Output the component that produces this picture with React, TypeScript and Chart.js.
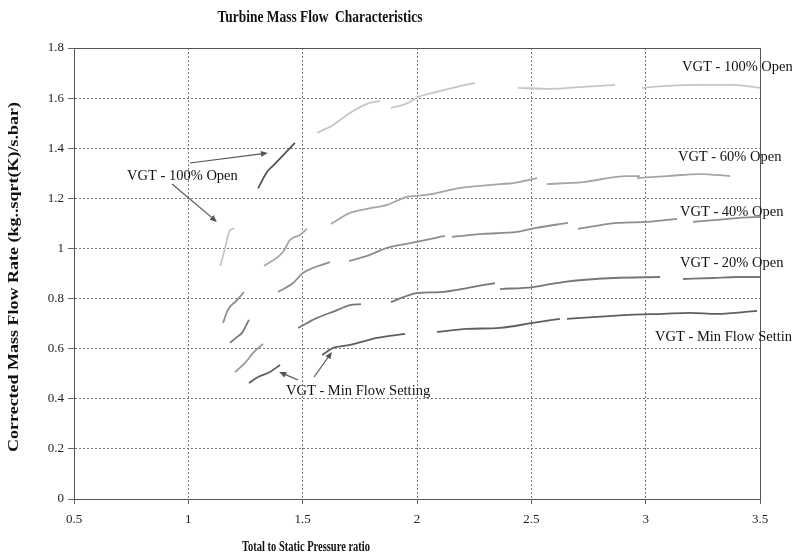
import React, { useEffect, useRef } from "react";
import { Chart, registerables } from "chart.js";
Chart.register(...registerables);

type Pt = [number, number];

// ---- Data (pressure ratio, corrected mass flow) ----
// VGT - 100% Open speed lines
const open100A: Pt[] = [[1.14, 0.93], [1.16, 1.0], [1.18, 1.07], [1.2, 1.08]];
const open100B: Pt[] = [[1.563, 1.461], [1.633, 1.493], [1.707, 1.541], [1.781, 1.577], [1.838, 1.589]];
const open100C: Pt[] = [[1.886, 1.561], [1.939, 1.573], [1.969, 1.585], [2.004, 1.604], [2.07, 1.621], [2.157, 1.641], [2.254, 1.661]];
const open100D: Pt[] = [[2.442, 1.641], [2.582, 1.637], [2.726, 1.645], [2.866, 1.653]];
const open100E: Pt[] = [[2.984, 1.641], [3.093, 1.649], [3.238, 1.653], [3.382, 1.653], [3.5, 1.641]];
// VGT - 60% Open speed lines
const open60A: Pt[] = [[1.305, 1.24], [1.344, 1.305], [1.37, 1.33], [1.466, 1.421]];
const open60B: Pt[] = [[1.331, 0.93], [1.414, 0.986], [1.445, 1.034], [1.488, 1.054], [1.519, 1.078]];
const open60C: Pt[] = [[1.624, 1.098], [1.707, 1.142], [1.781, 1.158], [1.869, 1.174], [1.956, 1.206], [2.0, 1.21], [2.07, 1.218], [2.188, 1.242], [2.275, 1.25], [2.363, 1.257], [2.42, 1.261], [2.525, 1.281]];
const open60D: Pt[] = [[2.568, 1.257], [2.726, 1.265], [2.918, 1.289], [2.975, 1.289]];
const open60E: Pt[] = [[2.962, 1.281], [3.093, 1.289], [3.238, 1.297], [3.369, 1.289]];
// VGT - 40% Open speed lines
const open40A: Pt[] = [[1.152, 0.703], [1.173, 0.755], [1.213, 0.794], [1.243, 0.826]];
const open40B: Pt[] = [[1.392, 0.826], [1.458, 0.862], [1.501, 0.902], [1.62, 0.946]];
const open40C: Pt[] = [[1.703, 0.95], [1.781, 0.97], [1.869, 1.002], [1.926, 1.014], [2.0, 1.026], [2.122, 1.05]];
const open40D: Pt[] = [[2.153, 1.046], [2.289, 1.058], [2.437, 1.066], [2.52, 1.082], [2.66, 1.102]];
const open40E: Pt[] = [[2.704, 1.078], [2.875, 1.102], [3.006, 1.106], [3.137, 1.118]];
const open40F: Pt[] = [[3.207, 1.106], [3.312, 1.114], [3.412, 1.122], [3.5, 1.126]];
// VGT - 20% Open speed lines
const open20A: Pt[] = [[1.182, 0.623], [1.213, 0.647], [1.235, 0.663], [1.265, 0.715]];
const open20B: Pt[] = [[1.48, 0.683], [1.563, 0.723], [1.641, 0.75], [1.707, 0.774], [1.755, 0.778]];
const open20C: Pt[] = [[1.886, 0.786], [2.0, 0.822], [2.101, 0.826], [2.219, 0.842], [2.341, 0.862]];
const open20D: Pt[] = [[2.363, 0.838], [2.507, 0.846], [2.638, 0.866], [2.857, 0.882], [3.063, 0.886]];
const open20E: Pt[] = [[3.163, 0.878], [3.294, 0.882], [3.399, 0.886], [3.5, 0.886]];
// VGT - Min Flow Setting speed lines
const minFlowA: Pt[] = [[1.204, 0.507], [1.248, 0.543], [1.283, 0.583], [1.327, 0.619]];
const minFlowB: Pt[] = [[1.265, 0.463], [1.305, 0.487], [1.357, 0.507], [1.401, 0.535]];
const minFlowC: Pt[] = [[1.585, 0.575], [1.633, 0.603], [1.707, 0.615], [1.825, 0.643], [1.948, 0.659]];
const minFlowD: Pt[] = [[2.087, 0.667], [2.219, 0.679], [2.363, 0.683], [2.507, 0.703], [2.625, 0.719]];
const minFlowE: Pt[] = [[2.656, 0.719], [2.787, 0.727], [2.931, 0.735], [3.076, 0.739], [3.194, 0.743], [3.312, 0.739], [3.487, 0.751]];

// Annotation labels
const labelTexts = ["VGT - 100% Open", "VGT - 60% Open", "VGT - 40% Open", "VGT - 20% Open", "VGT - Min Flow Setting", "VGT - 100% Open", "VGT - Min Flow Setting"];
const labelX = [3.159, 3.141, 3.15, 3.15, 3.041, 0.732, 1.427];
const labelY = [1.725, 1.365, 1.146, 0.942, 0.647, 1.289, 0.431];
// Arrows (from -> to)
const arrowFromX = [1.007, 0.929, 1.48, 1.55];
const arrowFromY = [1.341, 1.257, 0.475, 0.487];
const arrowToX = [1.348, 1.125, 1.397, 1.628];
const arrowToY = [1.381, 1.106, 0.507, 0.587];

const xTickValues = [0.5, 1, 1.5, 2, 2.5, 3, 3.5];

const C100 = "#c6c6c6";
const C60 = "#a6a6a6";
const C40 = "#8e8e8e";
const C20 = "#777777";
const CMIN = "#5f5f5f";

const segments: { name: string; color: string; pts: Pt[] }[] = [
  { name: "100A", color: C100, pts: open100A },
  { name: "100B", color: C100, pts: open100B },
  { name: "100C", color: C100, pts: open100C },
  { name: "100D", color: C100, pts: open100D },
  { name: "100E", color: C100, pts: open100E },
  { name: "60A", color: "#555555", pts: open60A },
  { name: "60B", color: C60, pts: open60B },
  { name: "60C", color: C60, pts: open60C },
  { name: "60D", color: C60, pts: open60D },
  { name: "60E", color: C60, pts: open60E },
  { name: "40A", color: C40, pts: open40A },
  { name: "40B", color: C40, pts: open40B },
  { name: "40C", color: C40, pts: open40C },
  { name: "40D", color: C40, pts: open40D },
  { name: "40E", color: C40, pts: open40E },
  { name: "40F", color: C40, pts: open40F },
  { name: "20A", color: C20, pts: open20A },
  { name: "20B", color: C20, pts: open20B },
  { name: "20C", color: C20, pts: open20C },
  { name: "20D", color: C20, pts: open20D },
  { name: "20E", color: C20, pts: open20E },
  { name: "minA", color: "#9a9a9a", pts: minFlowA },
  { name: "minB", color: CMIN, pts: minFlowB },
  { name: "minC", color: CMIN, pts: minFlowC },
  { name: "minD", color: CMIN, pts: minFlowD },
  { name: "minE", color: CMIN, pts: minFlowE },
];

function fitText(ctx: CanvasRenderingContext2D, text: string, cx: number, cy: number, width: number, rot: number) {
  ctx.save();
  ctx.translate(cx, cy);
  ctx.rotate(rot);
  const w = ctx.measureText(text).width;
  ctx.scale(width / w, 1);
  ctx.textAlign = "center";
  ctx.textBaseline = "middle";
  ctx.fillText(text, 0, 0);
  ctx.restore();
}

const fmt = (v: any) => String(Math.round(Number(v) * 10) / 10);

const decorPlugin = {
  id: "decor",
  afterDraw(chart: any) {
    const ctx: CanvasRenderingContext2D = chart.ctx;
    const xs = chart.scales.x;
    const ys = chart.scales.y;
    const a = chart.chartArea;
    ctx.save();
    // frame (top & right)
    ctx.strokeStyle = "#555555";
    ctx.lineWidth = 1;
    ctx.setLineDash([]);
    ctx.beginPath();
    ctx.moveTo(a.left, a.top + 0.5);
    ctx.lineTo(a.right + 0.5, a.top + 0.5);
    ctx.lineTo(a.right + 0.5, a.bottom);
    ctx.stroke();
    // titles
    ctx.fillStyle = "#111111";
    ctx.font = "bold 16px 'Liberation Serif'";
    fitText(ctx, "Turbine Mass Flow  Characteristics", 320, 18, 205, 0);
    ctx.font = "bold 14px 'Liberation Serif'";
    fitText(ctx, "Total to Static Pressure ratio", 306, 547, 128, 0);
    ctx.font = "bold 14px 'Liberation Serif'";
    fitText(ctx, "Corrected Mass Flow Rate (kg..sqrt(K)/s.bar)", 14, 277, 350, -Math.PI / 2);
    // labels
    ctx.font = "14.5px 'Liberation Serif'";
    ctx.fillStyle = "#111111";
    ctx.textAlign = "left";
    ctx.textBaseline = "middle";
    for (let i = 0; i < labelTexts.length; i++) {
      ctx.fillText(labelTexts[i], xs.getPixelForValue(labelX[i]), ys.getPixelForValue(labelY[i]));
    }
    // arrows
    ctx.strokeStyle = "#555555";
    ctx.fillStyle = "#555555";
    ctx.lineWidth = 1.2;
    for (let i = 0; i < arrowFromX.length; i++) {
      const x1 = xs.getPixelForValue(arrowFromX[i]);
      const y1 = ys.getPixelForValue(arrowFromY[i]);
      const x2 = xs.getPixelForValue(arrowToX[i]);
      const y2 = ys.getPixelForValue(arrowToY[i]);
      const ang = Math.atan2(y2 - y1, x2 - x1);
      ctx.beginPath();
      ctx.moveTo(x1, y1);
      ctx.lineTo(x2 - 5 * Math.cos(ang), y2 - 5 * Math.sin(ang));
      ctx.stroke();
      ctx.beginPath();
      ctx.moveTo(x2, y2);
      ctx.lineTo(x2 - 7 * Math.cos(ang) + 3 * Math.sin(ang), y2 - 7 * Math.sin(ang) - 3 * Math.cos(ang));
      ctx.lineTo(x2 - 7 * Math.cos(ang) - 3 * Math.sin(ang), y2 - 7 * Math.sin(ang) + 3 * Math.cos(ang));
      ctx.closePath();
      ctx.fill();
    }
    ctx.restore();
  },
};

export default function App() {
  const ref = useRef<HTMLCanvasElement | null>(null);
  useEffect(() => {
    if (!ref.current) return;
    document.body.style.margin = "0";
    const chart = new Chart(ref.current, {
      type: "line",
      data: {
        datasets: segments.map((s) => ({
          label: s.name,
          data: s.pts.map((p) => ({ x: p[0], y: p[1] })),
          borderColor: s.color,
          backgroundColor: s.color,
          borderWidth: 1.8,
          pointRadius: 0,
          cubicInterpolationMode: "monotone" as const,
          fill: false,
        })),
      },
      options: {
        animation: false,
        responsive: false,
        maintainAspectRatio: false,
        layout: { padding: { left: 0, right: 32, top: 48, bottom: 0 } },
        plugins: {
          legend: { display: false },
          title: { display: false },
          tooltip: { enabled: false },
        },
        scales: {
          x: {
            type: "linear",
            min: 0.5,
            max: 3.5,
            afterBuildTicks: (scale: any) => {
              scale.ticks = xTickValues.map((v) => ({ value: v }));
            },
            afterFit: (scale: any) => {
              scale.height = 61;
            },
            ticks: {
              color: "#222222",
              font: { family: "'Liberation Serif'", size: 13 },
              padding: 8,
              maxRotation: 0,
              callback: fmt,
            },
            grid: {
              color: "#7a7a7a",
              lineWidth: 1,
              drawTicks: true,
              tickLength: 5,
              tickColor: "#666666",
              tickBorderDash: [],
            } as any,
            border: { display: true, color: "#555555", width: 1, dash: [2, 2] } as any,
          },
          y: {
            type: "linear",
            min: 0,
            max: 1.8,
            ticks: {
              stepSize: 0.2,
              color: "#222222",
              font: { family: "'Liberation Serif'", size: 13 },
              padding: 4,
              callback: fmt,
            },
            afterFit: (scale: any) => {
              scale.width = 74;
            },
            grid: {
              color: "#7a7a7a",
              lineWidth: 1,
              drawTicks: true,
              tickLength: 6,
              tickColor: "#666666",
              tickBorderDash: [],
            } as any,
            border: { display: true, color: "#555555", width: 1, dash: [2, 2] } as any,
          },
        },
      },
      plugins: [decorPlugin],
    });
    return () => chart.destroy();
  }, []);
  return (
    <div style={{ position: "absolute", left: 0, top: 0, width: 792, height: 560, background: "#ffffff" }}>
      <canvas ref={ref} width={792} height={560} style={{ width: 792, height: 560 }} />
    </div>
  );
}
